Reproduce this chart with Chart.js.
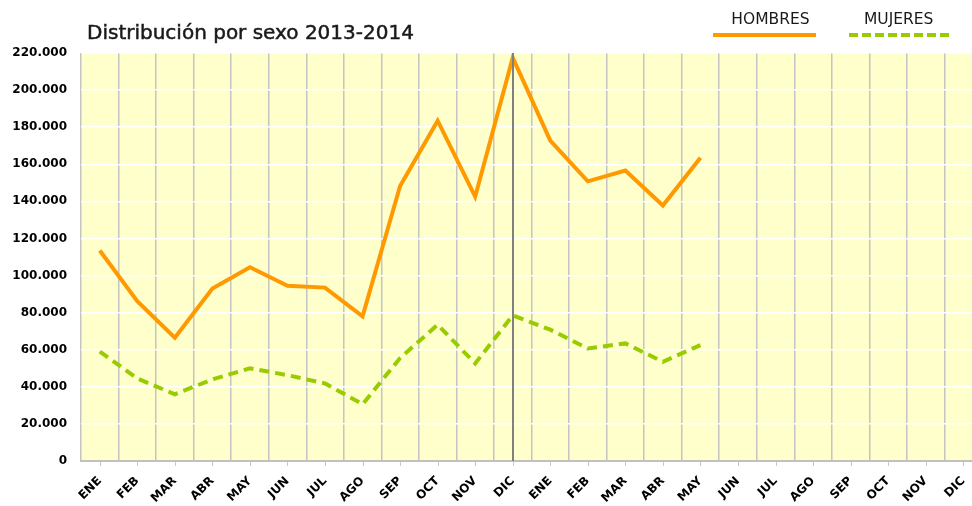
<!DOCTYPE html>
<html>
<head>
<meta charset="utf-8">
<script src="https://cdn.jsdelivr.net/npm/chart.js@4"></script>
<style>
  html, body { margin: 0; padding: 0; overflow: hidden; background: #fff; }
  #wrap { width: 990px; height: 506px; }
</style>
</head>
<body>
<div id="wrap"><canvas id="sexChart" width="990" height="506"></canvas></div>
<script>
const months = ['ENE', 'FEB', 'MAR', 'ABR', 'MAY', 'JUN', 'JUL', 'AGO', 'SEP', 'OCT', 'NOV', 'DIC',
                'ENE', 'FEB', 'MAR', 'ABR', 'MAY', 'JUN', 'JUL', 'AGO', 'SEP', 'OCT', 'NOV', 'DIC'];
const hombres = [113500, 86200, 66500, 93000, 104500, 94500, 93500, 78000, 148300, 183500, 142500, 217500,
                 172800, 150800, 156600, 137800, 163500, null, null, null, null, null, null, null];
const mujeres = [59000, 44500, 36000, 44000, 50000, 46300, 41800, 30600, 55500, 73500, 52600, 78500,
                 70800, 60700, 63400, 53500, 62500, null, null, null, null, null, null, null];
const yTicks = [0, 20000, 40000, 60000, 80000, 100000, 120000, 140000, 160000, 180000, 200000, 220000];
const chartTitle = 'Distribución por sexo 2013-2014';
const legendItems = ['HOMBRES', 'MUJERES'];
const markerIndex = 11; // DIC 2013

const orange = '#ff9900';
const green = '#99cc00';

// background, title, legend, DIC marker and x tick marks
const decor = {
    id: 'decor',
    beforeDraw(chart) {
        const { ctx, chartArea: a } = chart;
        ctx.save();
        ctx.fillStyle = '#ffffcc';
        ctx.fillRect(a.left, a.top, a.right - a.left, a.bottom - a.top);
        ctx.restore();
    },
    afterDatasetsDraw(chart) {
        const { ctx, chartArea: a, scales } = chart;
        ctx.save();
        // dark line at DIC 2013
        const mx = Math.round(scales.x.getPixelForValue(markerIndex));
        ctx.strokeStyle = '#808080';
        ctx.lineWidth = 2;
        ctx.beginPath();
        ctx.moveTo(mx, a.top);
        ctx.lineTo(mx, a.bottom);
        ctx.stroke();
        ctx.restore();
    },
    afterDraw(chart) {
        const { ctx, chartArea: a, scales } = chart;
        ctx.save();
        // tick marks under the axis at the category centres
        ctx.strokeStyle = '#c8c8c8';
        ctx.lineWidth = 1;
        for (let i = 0; i < months.length; i++) {
            const px = Math.round(scales.x.getPixelForValue(i)) + 0.5;
            ctx.beginPath();
            ctx.moveTo(px, a.bottom + 1);
            ctx.lineTo(px, a.bottom + 5);
            ctx.stroke();
        }
        // title
        ctx.fillStyle = '#1a1a1a';
        ctx.font = '20px "DejaVu Sans", sans-serif';
        ctx.textBaseline = 'alphabetic';
        ctx.textAlign = 'left';
        ctx.fillText(chartTitle, 87, 39);
        ctx.strokeStyle = '#1a1a1a';
        ctx.lineWidth = 0.5;
        ctx.strokeText(chartTitle, 87, 39);
        // legend
        ctx.font = '15.5px "DejaVu Sans", sans-serif';
        ctx.textAlign = 'center';
        ctx.fillText(legendItems[0], 770.5, 24);
        ctx.fillText(legendItems[1], 898.7, 24);
        ctx.lineWidth = 4;
        ctx.strokeStyle = orange;
        ctx.beginPath();
        ctx.moveTo(713, 35);
        ctx.lineTo(816, 35);
        ctx.stroke();
        ctx.strokeStyle = green;
        ctx.setLineDash([9, 4]);
        ctx.beginPath();
        ctx.moveTo(849, 35);
        ctx.lineTo(953, 35);
        ctx.stroke();
        ctx.restore();
    }
};

const ctx = document.getElementById('sexChart').getContext('2d');

let sexChart = new Chart(ctx, {
    type: 'line',
    data: {
        labels: months,
        datasets: [{
            label: legendItems[0],
            data: hombres,
            borderColor: orange,
            borderWidth: 4,
            pointRadius: 0,
            tension: 0,
            spanGaps: false,
        }, {
            label: legendItems[1],
            data: mujeres,
            borderColor: green,
            borderWidth: 4,
            borderDash: [10, 6],
            pointRadius: 0,
            tension: 0,
            spanGaps: false,
        }],
    },
    options: {
        responsive: false,
        animation: false,
        layout: {
            padding: { top: 53, left: 0, right: 8, bottom: 0 },
        },
        plugins: {
            legend: { display: false },
            title: { display: false },
            tooltip: { enabled: false },
        },
        scales: {
            x: {
                offset: true,
                afterFit(scale) {
                    scale.paddingLeft = 0;
                    scale.paddingRight = 0;
                    scale.height = 45;
                },
                grid: {
                    offset: true,
                    color: '#c4c4c4',
                    lineWidth: 1.5,
                    drawTicks: false,
                },
                border: { color: '#c0c0c0', width: 2 },
                ticks: {
                    autoSkip: false,
                    maxRotation: 45,
                    minRotation: 45,
                    padding: 13,
                    color: '#000',
                    font: { family: 'DejaVu Sans', size: 12, weight: 'bold' },
                },
            },
            y: {
                min: 0,
                max: 220000,
                afterBuildTicks(axis) {
                    axis.ticks = yTicks.map(v => ({ value: v }));
                },
                afterFit(scale) {
                    scale.width = 81;
                },
                grid: {
                    color: '#ffffff',
                    lineWidth: 1.5,
                    drawTicks: false,
                },
                border: { display: false },
                ticks: {
                    padding: 14,
                    color: '#000',
                    font: { family: 'DejaVu Sans', size: 12, weight: 'bold' },
                    callback: v => v.toLocaleString('de-DE'),
                },
            },
        },
    },
    plugins: [decor],
});
</script>
</body>
</html>
